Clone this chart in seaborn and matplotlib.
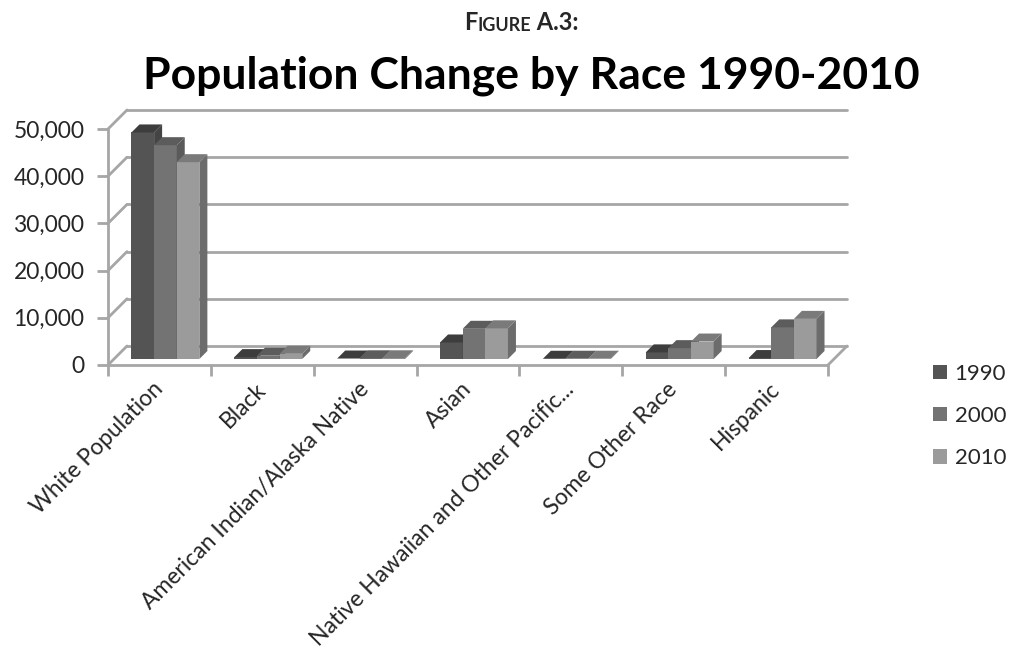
import numpy as np
import pandas as pd
import matplotlib
matplotlib.use("Agg")
import matplotlib.pyplot as plt
from matplotlib.patches import Polygon, Rectangle
import seaborn as sns

# ------------------------------
# Data
# ------------------------------
categories = ["White Population", "Black", "American Indian/Alaska Native", "Asian",
              "Native Hawaiian and Other Pacific...", "Some Other Race", "Hispanic"]
years = ["1990", "2000", "2010"]
pop_1990 = [48000, 400, 100, 3500, 50, 1400, 200]
pop_2000 = [45300, 700, 150, 6400, 60, 2300, 6700]
pop_2010 = [41700, 1100, 150, 6500, 60, 3700, 8500]
y_ticks = [0, 10000, 20000, 30000, 40000, 50000]

front_colors = ["#545454", "#737373", "#9b9b9b"]
top_colors = ["#3d3d3d", "#5c5c5c", "#7a7a7a"]
side_colors = ["#444444", "#5a5a5a", "#6c6c6c"]
grid_color = "#a6a6a6"

df = pd.DataFrame({
    "Race": categories * 3,
    "Year": [y for y in years for _ in categories],
    "Population": pop_1990 + pop_2000 + pop_2010,
})

# ------------------------------
# Figure / axes (front plane of the pseudo 3D box)
# ------------------------------
sns.set_theme(style="white")
plt.rcParams["font.family"] = ["Lato", "DejaVu Sans"]

W, H = 1013, 661
fig = plt.figure(figsize=(W / 100, H / 100), dpi=100)
ax_l, ax_r, ax_b, ax_t = 108, 828, 365, 129
ax = fig.add_axes([ax_l / W, 1 - ax_b / H, (ax_r - ax_l) / W, (ax_b - ax_t) / H])

xmin, xmax = -0.5, len(categories) - 0.5
ymax = 50000
px_x = (ax_r - ax_l) / (xmax - xmin)   # pixels per category unit
px_y = (ax_b - ax_t) / ymax            # pixels per person


def dx(p):
    return p / px_x


def dy(p):
    return p / px_y


sns.barplot(data=df, x="Race", y="Population", hue="Year", palette=front_colors,
            width=0.66, ax=ax, legend=False, saturation=1, edgecolor="none")
ax.set_xlim(xmin, xmax)
ax.set_ylim(0, ymax)

# ------------------------------
# Box: back wall, left wall, floor
# ------------------------------
D = (dx(19), dy(19))
for v in y_ticks:
    ax.plot([xmin + D[0], xmax + D[0]], [v + D[1], v + D[1]], color=grid_color,
            lw=2, clip_on=False, zorder=1)
    ax.plot([xmin, xmin + D[0]], [v, v + D[1]], color=grid_color, lw=2,
            clip_on=False, zorder=1)
ax.plot([xmax, xmax + D[0]], [0, D[1]], color=grid_color, lw=2, clip_on=False, zorder=1)
ax.plot([xmin, xmax], [0, 0], color=grid_color, lw=2, clip_on=False, zorder=1)
ax.plot([xmin, xmin], [0, ymax], color=grid_color, lw=2, clip_on=False, zorder=1)

# ------------------------------
# Bars: shift into mid depth and add top / side faces
# ------------------------------
off = (dx(6), dy(6))
bd = (dx(8), dy(8))
bars = [p for p in ax.patches if isinstance(p, Rectangle)]
bars = sorted(bars, key=lambda p: p.get_x())
n_year = len(years)
for i, p in enumerate(bars):
    k = i % n_year
    x0 = p.get_x() + off[0]
    x1 = x0 + p.get_width()
    b = off[1]
    t = b + p.get_height()
    p.set_x(x0)
    p.set_y(b)
    p.set_zorder(3 + i * 0.01)
    p.set_clip_on(False)
    side = Polygon([(x1, b), (x1 + bd[0], b + bd[1]), (x1 + bd[0], t + bd[1]), (x1, t)],
                   closed=True, facecolor=side_colors[k], edgecolor="none",
                   zorder=3 + i * 0.01, clip_on=False)
    top = Polygon([(x0, t), (x0 + bd[0], t + bd[1]), (x1 + bd[0], t + bd[1]), (x1, t)],
                  closed=True, facecolor=top_colors[k], edgecolor="none",
                  zorder=3 + i * 0.01, clip_on=False)
    ax.add_patch(side)
    ax.add_patch(top)

# ------------------------------
# Axes styling
# ------------------------------
for s in ax.spines.values():
    s.set_visible(False)
ax.set_xlabel("")
ax.set_ylabel("")
ax.set_yticks(y_ticks)
ax.set_yticklabels([f"{v:,}" for v in y_ticks], fontsize=16.5)
ax.tick_params(axis="y", length=8, width=2, color=grid_color, pad=9, left=True)
ax.set_xticks(range(len(categories)))
ax.set_xticklabels(categories, rotation=45, ha="right", va="center",
                   rotation_mode="anchor", fontsize=16.5)
ax.tick_params(axis="x", length=0, pad=15)
ax.set_xticks(np.arange(xmin, xmax + 0.1, 1), minor=True)
ax.tick_params(axis="x", which="minor", length=8, width=2, color=grid_color, bottom=True)

# Legend
handles = [Rectangle((0, 0), 1, 1, facecolor=c, edgecolor="none") for c in front_colors]
fig.legend(handles, years, loc="center left", bbox_to_anchor=(933 / W, 1 - 416 / H),
           frameon=False, fontsize=16, handlelength=0.62, handleheight=0.62,
           labelspacing=1.0, handletextpad=0.35, borderpad=0, borderaxespad=0)

# ------------------------------
# Titles
# ------------------------------
fig.text(531 / W, 1 - 88 / H, "Population Change by Race 1990-2010", ha="center",
         va="baseline", fontsize=32, fontweight="bold", color="black")
t1 = fig.text(464 / W, 1 - 30 / H, "F", ha="left", va="baseline", fontsize=17,
              fontweight="bold")
t2 = ax.annotate("IGURE", xy=(1, 0), xycoords=t1, va="bottom", ha="left",
                 fontsize=13, fontweight="bold")
ax.annotate(" A.3:", xy=(1, 0), xycoords=t2, va="bottom", ha="left",
            fontsize=17, fontweight="bold")

fig.savefig("out.png", dpi=100)
